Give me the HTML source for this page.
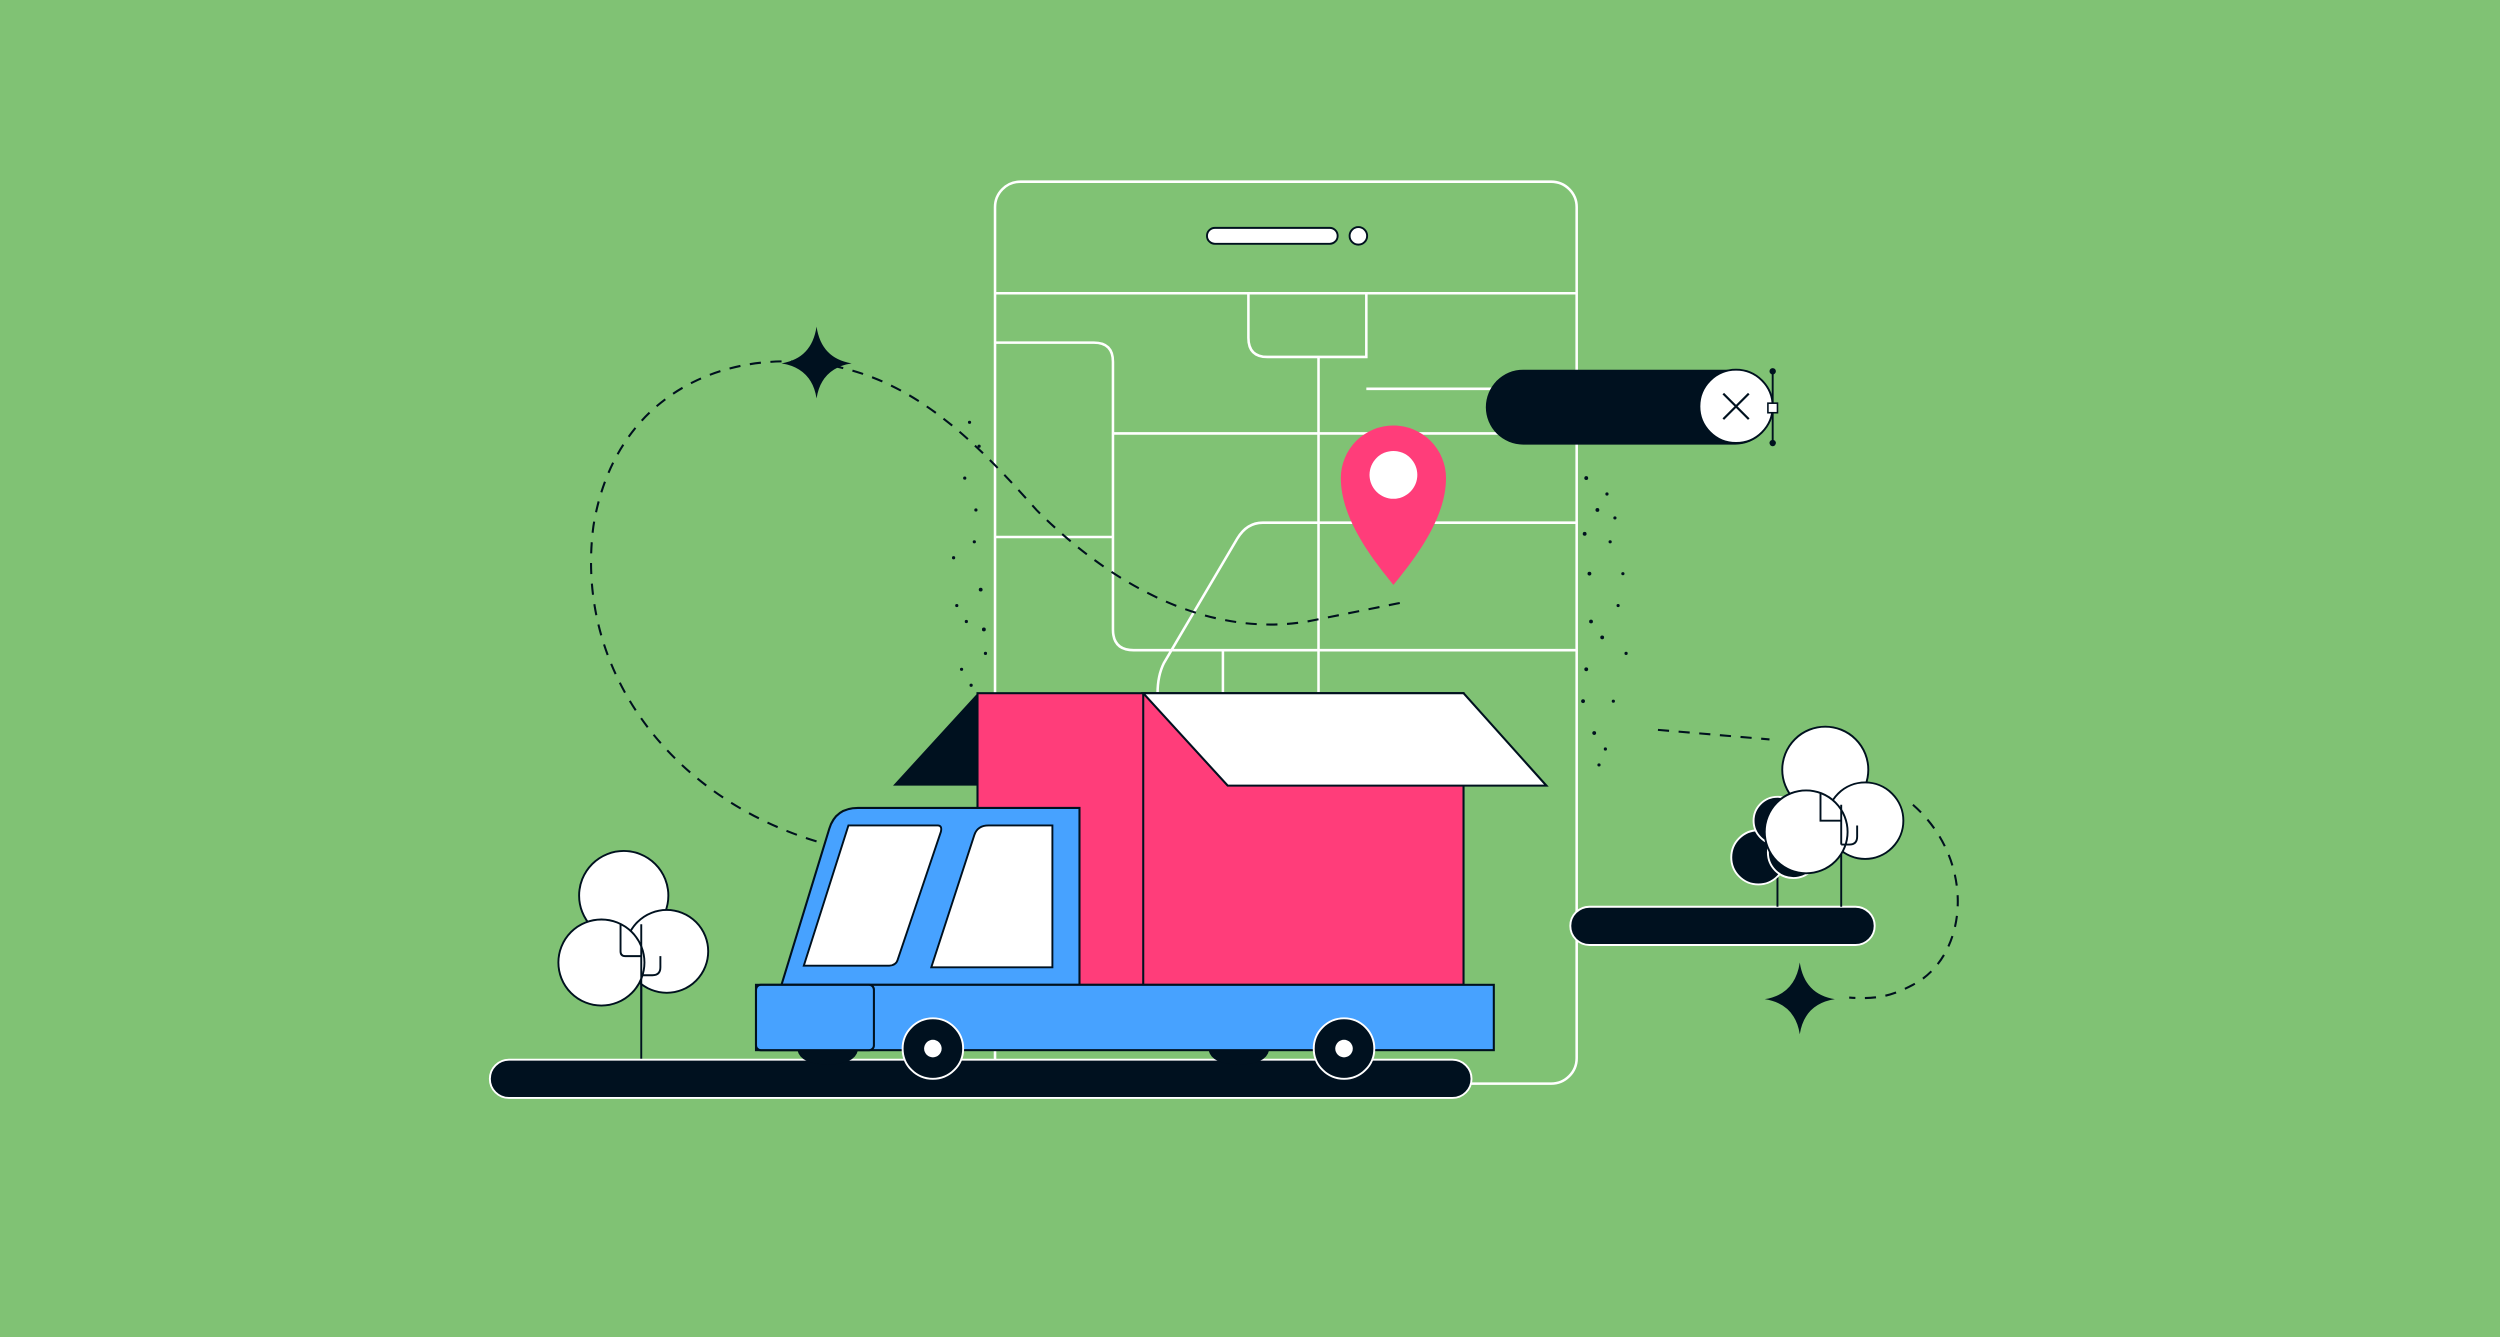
<!DOCTYPE html>
<html><head><meta charset="utf-8"><style>
html,body{margin:0;padding:0;background:#80c274;}
svg{display:block;}
</style></head><body>
<svg width="2500" height="1337" viewBox="0 0 1568 839" xmlns="http://www.w3.org/2000/svg">
<rect width="1568" height="839" fill="#80c274"/>
<!-- speckles -->
<g fill="#00111f">
<circle cx="605" cy="300" r="1"/><circle cx="612" cy="320" r="1"/><circle cx="598" cy="350" r="1"/><circle cx="615" cy="370" r="1.2"/><circle cx="606" cy="390" r="1"/><circle cx="618" cy="410" r="1"/><circle cx="603" cy="420" r="1"/><circle cx="611" cy="340" r="1"/><circle cx="600" cy="380" r="1"/><circle cx="614" cy="280" r="1"/><circle cx="608" cy="265" r="1"/><circle cx="617" cy="395" r="1.2"/><circle cx="609" cy="430" r="1"/>
<circle cx="995" cy="300" r="1.2"/><circle cx="1002" cy="320" r="1.2"/><circle cx="1010" cy="340" r="1"/><circle cx="997" cy="360" r="1.2"/><circle cx="1015" cy="380" r="1"/><circle cx="1005" cy="400" r="1.2"/><circle cx="995" cy="420" r="1.2"/><circle cx="1012" cy="440" r="1"/><circle cx="1000" cy="460" r="1.2"/><circle cx="1018" cy="360" r="1"/><circle cx="1008" cy="310" r="1"/><circle cx="993" cy="440" r="1.2"/><circle cx="1020" cy="410" r="1"/><circle cx="1003" cy="480" r="1"/><circle cx="998" cy="390" r="1.2"/><circle cx="1013" cy="325" r="1"/><circle cx="994" cy="335" r="1.2"/><circle cx="1007" cy="470" r="1"/>
</g>
<!-- phone -->
<rect x="624" y="114" width="365" height="566" rx="16" fill="none" stroke="#fff" stroke-width="1.6"/>
<rect x="757" y="143" width="82" height="10" rx="5" fill="#fff" stroke="#00111f" stroke-width="1.2"/>
<circle cx="852" cy="148" r="5.5" fill="#fff" stroke="#00111f" stroke-width="1.2"/>
<g fill="none" stroke="#fff" stroke-width="1.6">
<line x1="624" y1="184" x2="989" y2="184"/>
<path d="M783 184 V212 Q783 224 795 224 H857 V184"/>
<path d="M624 215 H686 Q698 215 698 227 V395 Q698 408 711 408 H989"/>
<line x1="698" y1="272" x2="989" y2="272"/>
<line x1="857" y1="244" x2="989" y2="244"/>
<line x1="624" y1="337" x2="698" y2="337"/>
<line x1="827" y1="224" x2="827" y2="435"/>
<path d="M989 328 H792 Q782 328 776 338 L730 416 Q726 424 726 435"/>
<line x1="767" y1="408" x2="767" y2="435"/>
</g>
<!-- dashed path -->
<path d="M512 528 C420 500 360 420 372 330 C385 250 450 220 512 228 C570 235 610 275 650 320 C700 370 760 400 820 390 L880 378" fill="none" stroke="#00111f" stroke-width="1.3" stroke-dasharray="7 6"/>
<path d="M1040 458 L1110 464" fill="none" stroke="#00111f" stroke-width="1.3" stroke-dasharray="7 6"/>
<path d="M1200 505 C1240 540 1235 600 1200 618 C1185 626 1175 627 1160 626" fill="none" stroke="#00111f" stroke-width="1.3" stroke-dasharray="7 6"/>
<!-- stars -->
<path d="M512 205 Q515 225 534 228 Q515 231 512 250 Q509 231 490 228 Q509 225 512 205Z" fill="#00111f"/>
<path d="M1129 604 Q1132 624 1151 627 Q1132 630 1129 649 Q1126 630 1107 627 Q1126 624 1129 604Z" fill="#00111f"/>
<!-- dark pill -->
<rect x="932" y="232" width="180" height="47" rx="23.5" fill="#00111f"/>
<circle cx="1089" cy="255" r="23" fill="#fff" stroke="#00111f" stroke-width="1.2"/>
<path d="M1081 247 L1097 263 M1097 247 L1081 263" stroke="#00111f" stroke-width="1.4"/>
<line x1="1112" y1="233" x2="1112" y2="278" stroke="#00111f" stroke-width="1.2"/>
<circle cx="1112" cy="233" r="2" fill="#00111f"/><circle cx="1112" cy="278" r="2" fill="#00111f"/>
<rect x="1109" y="253" width="6" height="6" fill="#fff" stroke="#00111f"/>
<!-- pin -->
<path d="M874 367 C860 350 841 325 841 300 A33 33 0 0 1 907 300 C907 325 888 350 874 367Z" fill="#ff3d7a"/>
<circle cx="874" cy="298" r="15" fill="#fff"/>
<!-- right road & trees -->
<rect x="985" y="569" width="191" height="24" rx="12" fill="#00111f" stroke="#fff" stroke-width="1.2"/>
<line x1="1115" y1="540" x2="1115" y2="569" stroke="#00111f" stroke-width="1.2"/>
<line x1="1155" y1="505" x2="1155" y2="569" stroke="#00111f" stroke-width="1.2"/>
<g stroke="#fff" stroke-width="1.2" fill="#00111f">
<circle cx="1103" cy="538" r="17"/><circle cx="1115" cy="515" r="15"/><circle cx="1125" cy="535" r="16"/>
</g>
<g stroke="#00111f" stroke-width="1.2" fill="#fff">
<circle cx="1145" cy="483" r="27"/><circle cx="1170" cy="515" r="24"/><circle cx="1133" cy="522" r="26"/>
</g>
<path d="M1155 505 V530 M1142 498 V515 H1155 M1165 518 V525 Q1165 530 1160 530 H1155" fill="none" stroke="#00111f" stroke-width="1.2"/>
<!-- left tree -->
<line x1="402" y1="580" x2="402" y2="665" stroke="#00111f" stroke-width="1.2"/>
<g stroke="#00111f" stroke-width="1.2" fill="#fff">
<circle cx="391" cy="562" r="28"/><circle cx="418" cy="597" r="26"/><circle cx="377" cy="604" r="27"/>
</g>
<path d="M402 580 V640 M389 580 V597 Q389 600 392 600 H402 M414 600 V607 Q414 612 409 612 H402" fill="none" stroke="#00111f" stroke-width="1.2"/>
<!-- main road -->
<rect x="307" y="665" width="616" height="24" rx="12" fill="#00111f" stroke="#fff" stroke-width="1.2"/>
<!-- truck box -->
<polygon points="560,493 613,435 613,493" fill="#00111f"/>
<rect x="613" y="435" width="305" height="183" fill="#ff3d7a" stroke="#00111f" stroke-width="1.3"/>
<line x1="717" y1="435" x2="717" y2="618" stroke="#00111f" stroke-width="1.3"/>
<polygon points="717,435 918,435 970,493 770,493" fill="#fff" stroke="#00111f" stroke-width="1.3"/>
<!-- cab -->
<path d="M490 618 L520 520 Q524 507 538 507 H677 V618 Z" fill="#47a2ff" stroke="#00111f" stroke-width="1.3"/>
<path d="M532 518 H588 Q591 518 590 522 L563 602 Q562 606 557 606 H504 Z" fill="#fff" stroke="#00111f" stroke-width="1.2"/>
<path d="M620 518 H660 V607 H584 L611 524 Q613 518 620 518Z" fill="#fff" stroke="#00111f" stroke-width="1.2"/>
<!-- chassis -->
<rect x="474" y="618" width="463" height="41" fill="#47a2ff" stroke="#00111f" stroke-width="1.3"/>
<rect x="474" y="618" width="74" height="41" rx="3" fill="#47a2ff" stroke="#00111f" stroke-width="1.3"/>
<path d="M500 659 H538 Q536 668 519 668 Q502 668 500 659Z" fill="#00111f"/>
<path d="M758 659 H796 Q794 668 777 668 Q760 668 758 659Z" fill="#00111f"/>
<circle cx="585" cy="658" r="19" fill="#00111f" stroke="#fff" stroke-width="1.2"/>
<circle cx="585" cy="658" r="5.5" fill="#fff"/>
<circle cx="843" cy="658" r="19" fill="#00111f" stroke="#fff" stroke-width="1.2"/>
<circle cx="843" cy="658" r="5.5" fill="#fff"/>
</svg>
</body></html>
